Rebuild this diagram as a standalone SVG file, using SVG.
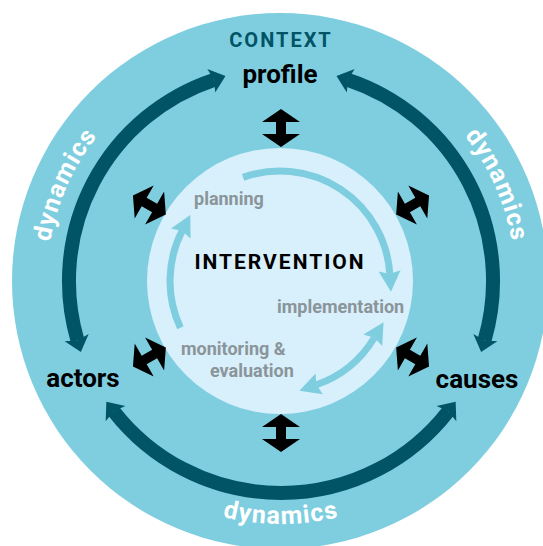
<svg xmlns="http://www.w3.org/2000/svg" width="543" height="546" viewBox="0 0 543 546">
<style>
.lbl{font-family:Roboto,"Liberation Sans",sans-serif;font-weight:700;font-size:26px;fill:#000;text-anchor:middle}
.gray{font-family:Roboto,"Liberation Sans",sans-serif;font-weight:700;font-size:18px;fill:#8a9599}
.dyn{font-family:Roboto,"Liberation Sans",sans-serif;font-weight:700;font-size:25px;fill:#fff;letter-spacing:1.2px}
.dark{fill:none;stroke:#005466;stroke-width:14}
.inner{fill:none;stroke:#7fcee0;stroke-width:7}
.dbl{fill:#000}
</style>
<defs>
<marker id="hd" markerUnits="userSpaceOnUse" viewBox="-4 -14 18 28" refX="0" refY="0" markerWidth="18" markerHeight="28" orient="auto-start-reverse">
<path d="M-3,-12.5 L12,0 L-3,12.5 L0,0 Z" fill="#005466"/>
</marker>
<marker id="hi" markerUnits="userSpaceOnUse" viewBox="-4 -12 24 24" refX="0" refY="0" markerWidth="24" markerHeight="24" orient="auto-start-reverse">
<path d="M-3,-11 L18,0 L-3,11 L0,0 Z" fill="#7fcee0"/>
</marker>
<path id="dbl" d="M0,-19 L19,-6 L5,-6 L5,6 L19,6 L0,19 L-19,6 L-5,6 L-5,-6 L-19,-6 Z"/>
<path id="tpL" d="M62.5,364.9 A234,234 0 0 1 197.1,62.5"/>
<path id="tpR" d="M364.9,62.5 A234,234 0 0 1 499.5,364.9"/>
<path id="tpB" d="M109.2,452.8 A243,243 0 0 0 452.8,452.8"/>
</defs>
<g id="context">
<circle cx="280" cy="281" r="268" fill="#7fcee0"/>
<text x="281" y="47" style="font-family:Roboto,'Liberation Sans',sans-serif;font-weight:700;font-size:20px;fill:#005466;letter-spacing:2px" text-anchor="middle">CONTEXT</text>
</g>
<g id="intervention">
<circle cx="280" cy="281" r="133" fill="#d8effc"/>
<text x="280" y="269" style="font-family:Roboto,'Liberation Sans',sans-serif;font-weight:700;font-size:21px;fill:#000;letter-spacing:2px" text-anchor="middle">INTERVENTION</text>
</g>
<g id="connectors">
<path class="dark" d="M77.5,340.5 A212,212 0 0 1 214.1,79.8" marker-start="url(#hd)" marker-end="url(#hd)"/>
<path class="dark" d="M347.9,79.8 A212,212 0 0 1 484.5,340.5" marker-start="url(#hd)" marker-end="url(#hd)"/>
<path class="dark" d="M448.3,411.2 A212,212 0 0 1 113.7,411.2" marker-start="url(#hd)" marker-end="url(#hd)"/>
<path class="inner" d="M243.1,177.4 A110,110 0 0 1 389.8,273.9" marker-end="url(#hi)"/>
<path class="inner" d="M374.3,337.7 A110,110 0 0 1 316.4,384.8" marker-start="url(#hi)" marker-end="url(#hi)"/>
<path class="inner" d="M180.4,327.7 A110,110 0 0 1 182.1,230.9" marker-end="url(#hi)"/>
<use href="#dbl" class="dbl" transform="translate(281,128)"/>
<use href="#dbl" class="dbl" transform="translate(412.6,205) rotate(60)"/>
<use href="#dbl" class="dbl" transform="translate(412.6,357) rotate(-60)"/>
<use href="#dbl" class="dbl" transform="translate(281,433)"/>
<use href="#dbl" class="dbl" transform="translate(149.4,357) rotate(60)"/>
<use href="#dbl" class="dbl" transform="translate(149.4,205) rotate(-60)"/>
</g>
<g id="dynamics">
<text class="dyn"><textPath href="#tpL" startOffset="50%" text-anchor="middle">dynamics</textPath></text>
<text class="dyn"><textPath href="#tpR" startOffset="50%" text-anchor="middle">dynamics</textPath></text>
<text class="dyn"><textPath href="#tpB" startOffset="50%" text-anchor="middle">dynamics</textPath></text>
</g>
<g id="profile"><text class="lbl" x="280" y="83">profile</text></g>
<g id="actors"><text class="lbl" x="83" y="387">actors</text></g>
<g id="causes"><text class="lbl" x="477" y="388">causes</text></g>
<g id="planning"><text class="gray" x="194" y="205">planning</text></g>
<g id="implementation"><text class="gray" x="277" y="313">implementation</text></g>
<g id="monitoring"><text class="gray" x="181" y="355">monitoring &amp;</text><text class="gray" x="210" y="377">evaluation</text></g>
</svg>
